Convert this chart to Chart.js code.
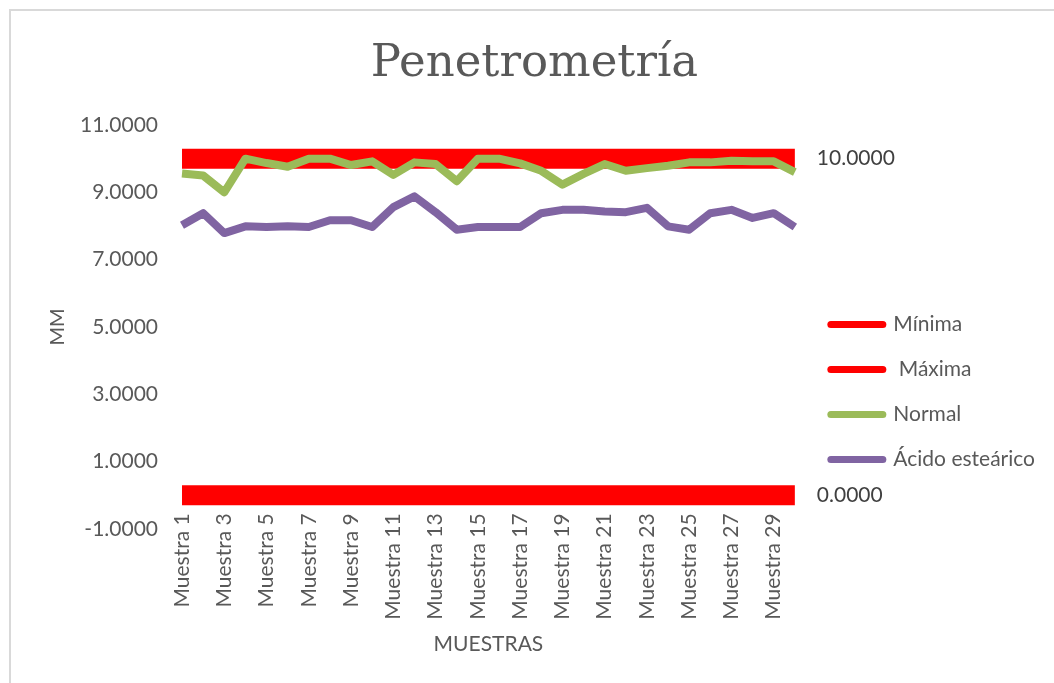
<html>
<head>
<meta charset="utf-8">
<script src="https://cdn.jsdelivr.net/npm/chart.js@4.4.1/dist/chart.umd.min.js"></script>
<style>
  body { margin: 0; background: #fff; overflow: hidden; }
  #frame { position: absolute; left: 9px; top: 9px; width: 1200px; height: 900px; border: 2px solid #d9d9d9; }
  #wrap { position: absolute; left: 0; top: 0; width: 1054px; height: 683px; }
</style>
</head>
<body>
<div id="frame"></div>
<div id="wrap"><canvas id="penetro" width="1054" height="683"></canvas></div>
<script>
var muestras = ["Muestra 1","Muestra 2","Muestra 3","Muestra 4","Muestra 5","Muestra 6","Muestra 7","Muestra 8","Muestra 9","Muestra 10",
  "Muestra 11","Muestra 12","Muestra 13","Muestra 14","Muestra 15","Muestra 16","Muestra 17","Muestra 18","Muestra 19","Muestra 20",
  "Muestra 21","Muestra 22","Muestra 23","Muestra 24","Muestra 25","Muestra 26","Muestra 27","Muestra 28","Muestra 29","Muestra 30"];
var minima = [0,0,0,0,0,0,0,0,0,0, 0,0,0,0,0,0,0,0,0,0, 0,0,0,0,0,0,0,0,0,0];
var maxima = [10,10,10,10,10,10,10,10,10,10, 10,10,10,10,10,10,10,10,10,10, 10,10,10,10,10,10,10,10,10,10];
var normal = [9.56, 9.50, 9.00, 10.00, 9.87, 9.76, 10.00, 10.00, 9.81, 9.92,
  9.52, 9.89, 9.84, 9.33, 10.00, 10.00, 9.86, 9.64, 9.23, 9.55,
  9.84, 9.64, 9.72, 9.79, 9.89, 9.89, 9.94, 9.92, 9.92, 9.60];
var acido = [8.02, 8.38, 7.79, 7.99, 7.97, 7.99, 7.97, 8.17, 8.17, 7.97,
  8.56, 8.88, 8.41, 7.89, 7.97, 7.97, 7.97, 8.38, 8.48, 8.48,
  8.43, 8.41, 8.54, 7.99, 7.89, 8.38, 8.48, 8.24, 8.38, 7.97];
var yTicks = [-1, 1, 3, 5, 7, 9, 11];

var gris = "#595959";

// moves the legend down/right to where excel had it
var moverLeyenda = {
  id: "moverLeyenda",
  afterLayout: function(chart) {
    var lg = chart.legend;
    lg.top += 65; lg.bottom += 65;
    lg.left += 12; lg.right += 12;
  }
};

// value labels at the end of the red limit lines
var etiquetas = {
  id: "etiquetas",
  afterDatasetsDraw: function(chart) {
    var ctx = chart.ctx;
    ctx.save();
    ctx.font = "21px Lato";
    ctx.fillStyle = "#404040";
    ctx.textAlign = "left";
    ctx.textBaseline = "middle";
    [0, 1].forEach(function(i) {
      var pts = chart.getDatasetMeta(i).data;
      var p = pts[pts.length - 1];
      var v = chart.data.datasets[i].data[pts.length - 1];
      ctx.fillText(v.toFixed(4), p.x + 22, p.y);
    });
    ctx.restore();
  }
};

new Chart(document.getElementById("penetro"), {
  type: "line",
  data: {
    labels: muestras,
    datasets: [
      {label: "Mínima", data: minima, borderColor: "#FF0000", borderWidth: 20, borderCapStyle: "butt", order: 3},
      {label: " Máxima", data: maxima, borderColor: "#FF0000", borderWidth: 20, borderCapStyle: "butt", order: 2},
      {label: "Normal", data: normal, borderColor: "#9BBB59", borderWidth: 8, borderJoinStyle: "round", order: 1},
      {label: "Ácido esteárico", data: acido, borderColor: "#8064A2", borderWidth: 8, borderJoinStyle: "round", order: 0}
    ]
  },
  options: {
    responsive: false,
    animation: false,
    events: [],
    elements: { point: { radius: 0 }, line: { tension: 0, fill: false } },
    layout: { padding: { left: 36, right: 21, top: 0, bottom: 154 } },
    plugins: {
      title: {
        display: true, text: "Penetrometría", color: gris,
        font: { family: "DejaVu Serif", size: 45, weight: "normal" },
        padding: { top: 37, bottom: 34 }
      },
      legend: {
        position: "right", fullSize: false,
        labels: {
          color: gris, font: { family: "Lato", size: 21 },
          usePointStyle: true, pointStyleWidth: 52, padding: 24,
          generateLabels: function(chart) {
            return chart.data.datasets.map(function(ds, i) {
              return { text: ds.label, datasetIndex: i, fillStyle: ds.borderColor, strokeStyle: ds.borderColor,
                lineWidth: 7, lineCap: "round", pointStyle: "line", fontColor: gris, hidden: false };
            });
          }
        }
      },
      tooltip: { enabled: false }
    },
    scales: {
      x: {
        position: { y: 0 },
        offset: false,
        grid: { display: false, drawTicks: false },
        border: { display: false },
        ticks: {
          color: gris, font: { family: "Lato", size: 21 }, padding: 18,
          autoSkip: false, minRotation: 90, maxRotation: 90,
          callback: function(v, i) { return i % 2 === 0 ? muestras[i] : ""; }
        },
        title: { display: true, text: "MUESTRAS", color: gris, font: { family: "Lato", size: 21 }, padding: { top: -6, bottom: 0 } }
      },
      y: {
        min: -1, max: 11,
        afterBuildTicks: function(axis) { axis.ticks = yTicks.map(function(v) { return { value: v }; }); },
        afterFit: function(axis) { axis.width = 146; },
        grid: { display: false, drawTicks: false },
        border: { display: false },
        ticks: {
          color: gris, font: { family: "Lato", size: 21 }, padding: 24,
          callback: function(v) { return Number(v).toFixed(4); }
        },
        title: { display: true, text: "MM", color: gris, font: { family: "Lato", size: 20 }, padding: { top: 10, bottom: 11 } }
      }
    }
  },
  plugins: [moverLeyenda, etiquetas]
});
</script>
</body>
</html>
